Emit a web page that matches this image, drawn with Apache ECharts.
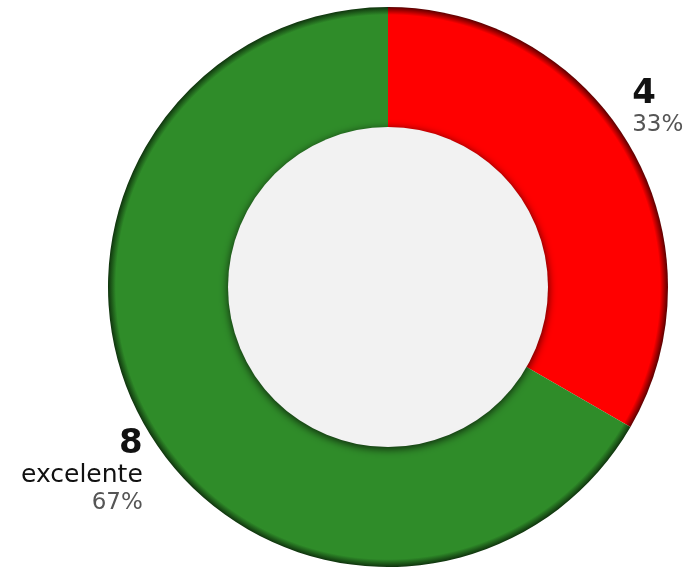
<!DOCTYPE html>
<html>
<head>
<meta charset="utf-8">
<script src="https://cdn.jsdelivr.net/npm/echarts@6/dist/echarts.min.js"></script>
<style>html,body{margin:0;padding:0;background:#fff}#c{width:689px;height:567px}</style>
</head>
<body>
<div id="c"></div>
<script>
const categories = ['', 'excelente'];
const values = [4, 8];
const colors = ['#ff0000', '#2f8c29'];
const shades = ['#5a0000', '#0f330d'];

const CX = 388, CY = 287, R = 280, RIN = 160;
const chart = echarts.init(document.getElementById('c'));
const total = values.reduce((a, b) => a + b, 0);

function ringColor(i) {
  return {
    type: 'radial', x: CX, y: CY, r: R, global: true,
    colorStops: [
      { offset: 0, color: colors[i] },
      { offset: 0.972, color: colors[i] },
      { offset: 1, color: shades[i] }
    ]
  };
}

chart.setOption({
  animation: false,
  series: [
    {
      type: 'pie',
      center: [CX, CY],
      radius: [0, R],
      startAngle: 90,
      clockwise: true,
      silent: true,
      data: values.map((v, i) => ({
        value: v, name: categories[i],
        itemStyle: { color: ringColor(i) }
      })),
      label: {
        show: true,
        position: 'outside',
        overflow: 'none',
        alignTo: 'none',
        formatter: p => {
          const pct = Math.round(p.value / total * 100) + '%';
          const lines = ['{v|' + p.value + '}'];
          if (p.name) lines.push('{n|' + p.name + '}');
          lines.push('{p|' + pct + '}');
          return lines.join('\n');
        },
        rich: {
          v: { fontFamily: 'DejaVu Sans', fontWeight: 'bold', fontSize: 34, color: '#111', lineHeight: 35 },
          n: { fontFamily: 'DejaVu Sans', fontSize: 25, color: '#111', lineHeight: 28 },
          p: { fontFamily: 'DejaVu Sans', fontSize: 23, color: '#555', lineHeight: 28 }
        }
      },
      labelLine: { show: false, length: 2, length2: 0 },
      labelLayout: function (params) {
        return params.dataIndex === 0 ? { dx: -5, dy: -38 } : { dx: 4, dy: 44 };
      }
    },
    {
      type: 'pie',
      center: [CX, CY],
      radius: [0, RIN],
      silent: true,
      label: { show: false },
      labelLine: { show: false },
      data: [{ value: 1, name: 'inner', itemStyle: { color: '#f2f2f2', shadowBlur: 9, shadowColor: 'rgba(0,0,0,0.75)', shadowOffsetY: 2 } }]
    }
  ]
});
</script>
</body>
</html>
